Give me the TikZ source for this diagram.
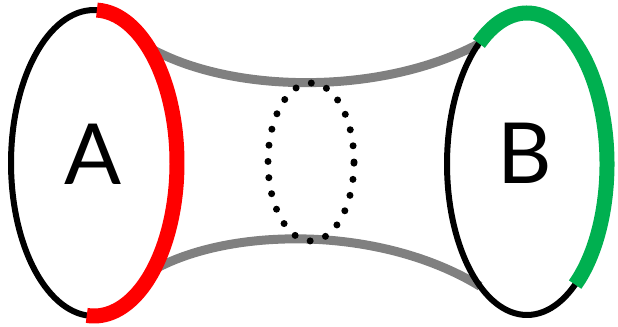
\documentclass[tikz,border=0pt]{standalone}
\usepackage{fontspec}
\setmainfont{Lato}
\usetikzlibrary{shapes.geometric,backgrounds}

\definecolor{ringred}{RGB}{255,0,0}
\definecolor{ringgreen}{RGB}{0,176,80}
\definecolor{tubegray}{RGB}{128,128,128}

\begin{document}
\begin{tikzpicture}[x=0.02cm, y=0.02cm,
    ring/.style={draw, ellipse, line width=0.12cm, outer sep=0pt, inner sep=0pt},
    tube/.style={draw=tubegray, line width=0.18cm},
    letter/.style={font=\fontsize{48}{50}\selectfont},
    neck/.style={line width=0.14cm, line cap=round, dash pattern=on 0pt off 9.26pt}]
    \useasboundingbox (0,0) rectangle (618,326);

    \node[ring, minimum width=3.32cm, minimum height=6.12cm] (A) at (94,163) {};
    \node[ring, minimum width=3.2cm, minimum height=6.04cm] (B) at (527,162) {};

    \node[letter] (labA) at (93,172) {A};
    \node[letter] (labB) at (525,173) {B};

    % the tube between the two rings
    \begin{scope}[on background layer]
      \draw[tube] (A.65) .. controls (230,232) and (380,230) .. (B.112);
      \draw[tube] (A.-61) .. controls (230,99) and (380,101) .. (B.-111);
    \end{scope}

    % coloured halves
    \draw[ringred, line width=0.3cm, shift={(A.center)}]
      (88:83 and 153) arc[start angle=88, end angle=-95, x radius=83, y radius=153];
    \draw[ringgreen, line width=0.3cm, shift={(B.center)}]
      (127:80 and 151) arc[start angle=127, end angle=-53, x radius=80, y radius=151];

    \draw[neck] (311,164) ellipse[x radius=43, y radius=79];
  \end{tikzpicture}
\end{document}
